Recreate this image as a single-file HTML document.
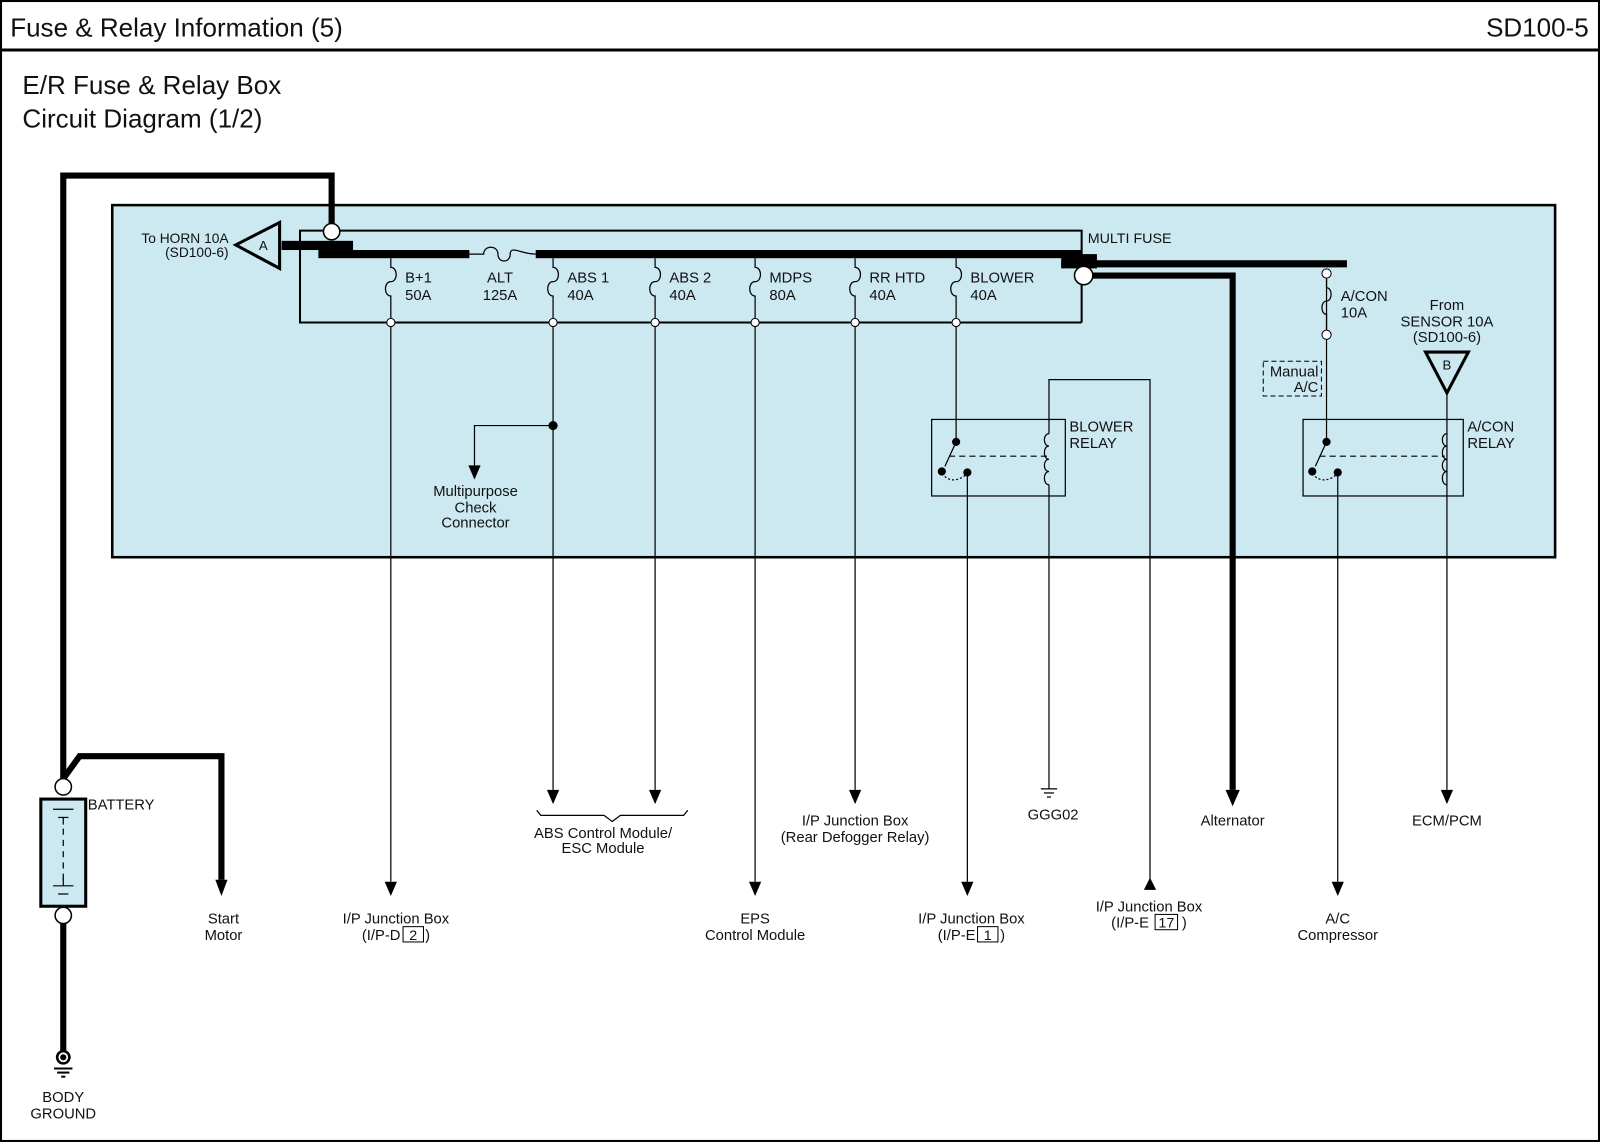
<!DOCTYPE html>
<html><head><meta charset="utf-8"><style>
html,body{margin:0;padding:0;background:#fff;}
svg{display:block;}
text{font-family:"Liberation Sans",Arial,sans-serif;fill:#111;}
</style></head><body>
<svg width="1600" height="1143" viewBox="0 0 1568 1120" preserveAspectRatio="none" xmlns="http://www.w3.org/2000/svg">
<!-- frame -->
<rect x="1" y="1" width="1566" height="1117" fill="none" stroke="#000" stroke-width="2"/>
<line x1="0" y1="49" x2="1568" y2="49" stroke="#000" stroke-width="3"/>
<text x="10" y="36" font-size="25.5">Fuse &amp; Relay Information (5)</text>
<text x="1557" y="36" font-size="25.5" text-anchor="end">SD100-5</text>
<text x="22" y="92" font-size="25.5">E/R Fuse &amp; Relay Box</text>
<text x="22" y="125" font-size="25.5">Circuit Diagram (1/2)</text>

<!-- blue box -->
<rect x="110" y="201" width="1414" height="345" fill="#cce9f1" stroke="#000" stroke-width="2.5"/>

<!-- battery thick wire -->
<polyline points="62,771 62,172 325,172 325,220" fill="none" stroke="#000" stroke-width="6"/>
<polyline points="62,763 78,741 217,741 217,862" fill="none" stroke="#000" stroke-width="6"/>
<path d="M211,862 L223,862 L217,878 Z" fill="#000"/>
<line x1="62" y1="905" x2="62" y2="1030" stroke="#000" stroke-width="6"/>

<!-- multi fuse box -->
<polyline points="1060,316 294,316 294,226 1060,226 1060,316" fill="none" stroke="#000" stroke-width="2"/>
<circle cx="325" cy="227" r="8" fill="#fff" stroke="#000" stroke-width="1.5"/>
<rect x="276" y="236" width="70" height="9" fill="#000"/>
<rect x="312" y="245" width="148" height="8"/>
<path d="M460,249 L474,249 C474,240 488,240 488,249 C488,258 500,258 500,249 C500,240 511,249 525,249" fill="none" stroke="#000" stroke-width="1.2"/>
<rect x="525" y="245" width="535" height="8"/>
<rect x="1040" y="249" width="35" height="14"/>
<rect x="1040" y="255" width="280" height="7"/>
<text x="1066" y="238" font-size="14">MULTI FUSE</text>
<!-- triangle A -->
<polygon points="231,240 274,218 274,263" fill="#cce9f1" stroke="#000" stroke-width="3"/>
<text x="258" y="245" font-size="13" text-anchor="middle">A</text>
<text x="224" y="238" font-size="13.5" text-anchor="end">To HORN 10A</text>
<text x="224" y="252" font-size="13.5" text-anchor="end">(SD100-6)</text>

<!-- fuses -->
<g stroke="#000" stroke-width="1.2" fill="none">
<path d="M383,253 V262 c7,0 7,14 0,14 c-7,0 -7,14 0,14 V312"/>
<path d="M542,253 V262 c7,0 7,14 0,14 c-7,0 -7,14 0,14 V312"/>
<path d="M642,253 V262 c7,0 7,14 0,14 c-7,0 -7,14 0,14 V312"/>
<path d="M740,253 V262 c7,0 7,14 0,14 c-7,0 -7,14 0,14 V312"/>
<path d="M838,253 V262 c7,0 7,14 0,14 c-7,0 -7,14 0,14 V312"/>
<path d="M937,253 V262 c7,0 7,14 0,14 c-7,0 -7,14 0,14 V312"/>
</g>
<g fill="#fff" stroke="#000" stroke-width="1">
<circle cx="383" cy="316" r="4"/><circle cx="542" cy="316" r="4"/><circle cx="642" cy="316" r="4"/>
<circle cx="740" cy="316" r="4"/><circle cx="838" cy="316" r="4"/><circle cx="937" cy="316" r="4"/>
</g>
<g font-size="14.5">
<text x="397" y="277">B+1</text><text x="397" y="294">50A</text>
<text x="490" y="277" text-anchor="middle">ALT</text><text x="490" y="294" text-anchor="middle">125A</text>
<text x="556" y="277">ABS 1</text><text x="556" y="294">40A</text>
<text x="656" y="277">ABS 2</text><text x="656" y="294">40A</text>
<text x="754" y="277">MDPS</text><text x="754" y="294">80A</text>
<text x="852" y="277">RR HTD</text><text x="852" y="294">40A</text>
<text x="951" y="277">BLOWER</text><text x="951" y="294">40A</text>
</g>

<!-- vertical wires -->
<g stroke="#000" stroke-width="1.2" fill="none">
<line x1="383" y1="320" x2="383" y2="864"/>
<line x1="542" y1="320" x2="542" y2="774"/>
<polyline points="542,417 465,417 465,456"/>
<line x1="642" y1="320" x2="642" y2="774"/>
<line x1="740" y1="320" x2="740" y2="864"/>
<line x1="838" y1="320" x2="838" y2="774"/>
<line x1="937" y1="320" x2="937" y2="433"/>
<line x1="948" y1="463" x2="948" y2="864"/>
<polyline points="1028,425 1028,372 1127,372 1127,862"/>
<line x1="1028" y1="475" x2="1028" y2="773"/>
<line x1="1300" y1="273" x2="1300" y2="324"/>
<line x1="1300" y1="332" x2="1300" y2="433"/>
<line x1="1311" y1="463" x2="1311" y2="864"/>
<line x1="1418" y1="385" x2="1418" y2="774"/>
</g>
<circle cx="542" cy="417" r="4.5" fill="#000"/>
<g fill="#000">
<path d="M377,864 L389,864 L383,878 Z"/>
<path d="M536,774 L548,774 L542,788 Z"/>
<path d="M636,774 L648,774 L642,788 Z"/>
<path d="M459,456 L471,456 L465,470 Z"/>
<path d="M734,864 L746,864 L740,878 Z"/>
<path d="M832,774 L844,774 L838,788 Z"/>
<path d="M942,864 L954,864 L948,878 Z"/>
<path d="M1121,872 L1133,872 L1127,860 Z"/>
<path d="M1305,864 L1317,864 L1311,878 Z"/>
<path d="M1412,774 L1424,774 L1418,788 Z"/>
</g>

<!-- Alternator thick wire -->
<polyline points="1062,270 1208,270 1208,774" fill="none" stroke="#000" stroke-width="6"/>
<path d="M1201,774 L1215,774 L1208,790 Z" fill="#000"/>
<circle cx="1062" cy="270" r="9" fill="#fff" stroke="#000" stroke-width="1.5"/>

<!-- A/CON fuse -->
<path d="M1300,273 V282 c6,0 6,13 0,13 c-6,0 -6,13 0,13 V324" fill="none" stroke="#000" stroke-width="1.2"/>
<circle cx="1300" cy="268" r="4.5" fill="#fff" stroke="#000"/>
<circle cx="1300" cy="328" r="4.5" fill="#fff" stroke="#000"/>
<text x="1314" y="295" font-size="14.5">A/CON</text><text x="1314" y="311" font-size="14.5">10A</text>
<rect x="1238" y="354" width="57" height="34" fill="none" stroke="#000" stroke-dasharray="5,3"/>
<text x="1292" y="369" font-size="14.5" text-anchor="end">Manual</text>
<text x="1292" y="384" font-size="14.5" text-anchor="end">A/C</text>
<text x="1418" y="304" font-size="14.5" text-anchor="middle">From</text>
<text x="1418" y="320" font-size="14.5" text-anchor="middle">SENSOR 10A</text>
<text x="1418" y="335" font-size="14.5" text-anchor="middle">(SD100-6)</text>
<polygon points="1397,345 1439,345 1418,385" fill="#cce9f1" stroke="#000" stroke-width="3"/>
<text x="1418" y="362" font-size="13" text-anchor="middle">B</text>

<!-- relays -->
<g stroke="#000" stroke-width="1.2" fill="none">
<rect x="913" y="411" width="131" height="75"/>
<path d="M1028,425 c-6,0 -6,12 0,12 c-6,0 -6,13 0,13 c-6,0 -6,12 0,12 c-6,0 -6,13 0,13"/>
<line x1="937" y1="433" x2="926" y2="457"/>
<line x1="930" y1="447" x2="1026" y2="447" stroke-dasharray="6,4"/>
<path d="M923,464 q10,12 24,1" stroke-dasharray="2,2"/>
<rect x="1277" y="411" width="157" height="75"/>
<path d="M1418,425 c-6,0 -6,12 0,12 c-6,0 -6,13 0,13 c-6,0 -6,12 0,12 c-6,0 -6,13 0,13"/>
<line x1="1300" y1="433" x2="1289" y2="457"/>
<line x1="1293" y1="447" x2="1416" y2="447" stroke-dasharray="6,4"/>
<path d="M1286,464 q10,12 24,1" stroke-dasharray="2,2"/>
</g>
<g fill="#000">
<circle cx="937" cy="433" r="4"/><circle cx="923" cy="462" r="4"/><circle cx="948" cy="463" r="4"/>
<circle cx="1300" cy="433" r="4"/><circle cx="1286" cy="462" r="4"/><circle cx="1311" cy="463" r="4"/>
</g>
<text x="1048" y="423" font-size="14.5">BLOWER</text><text x="1048" y="439" font-size="14.5">RELAY</text>
<text x="1438" y="423" font-size="14.5">A/CON</text><text x="1438" y="439" font-size="14.5">RELAY</text>

<!-- ground GGG02 -->
<g stroke="#000" stroke-width="1.2">
<line x1="1020" y1="773" x2="1036" y2="773"/><line x1="1023" y1="777" x2="1033" y2="777"/><line x1="1026" y1="781" x2="1030" y2="781"/>
</g>

<!-- battery -->
<rect x="40" y="783" width="44" height="105" fill="#cce9f1" stroke="#000" stroke-width="3"/>
<g stroke="#000" stroke-width="1.2">
<line x1="52" y1="793" x2="72" y2="793"/><line x1="57" y1="801" x2="67" y2="801"/><line x1="62" y1="801" x2="62" y2="808"/>
<line x1="62" y1="812" x2="62" y2="862" stroke-dasharray="6,5"/>
<line x1="52" y1="868" x2="72" y2="868"/><line x1="57" y1="876" x2="67" y2="876"/><line x1="62" y1="861" x2="62" y2="868"/>
</g>
<circle cx="62" cy="771" r="8" fill="#fff" stroke="#000" stroke-width="1.5"/>
<circle cx="62" cy="897" r="8" fill="#fff" stroke="#000" stroke-width="1.5"/>
<circle cx="62" cy="1036" r="6" fill="#fff" stroke="#000" stroke-width="2.5"/>
<circle cx="62" cy="1036" r="3" fill="#000"/>
<g stroke="#000" stroke-width="2"><line x1="53" y1="1047" x2="71" y2="1047"/><line x1="56" y1="1051" x2="68" y2="1051"/><line x1="60" y1="1055" x2="64" y2="1055"/></g>
<text x="86" y="793" font-size="14.5">BATTERY</text>

<!-- brace -->
<path d="M526,794 l4,5 l62,0 l8,6 l8,-6 l62,0 l4,-5" fill="none" stroke="#000" stroke-width="1.2"/>

<!-- bottom labels -->
<g font-size="14.5" text-anchor="middle">
<text x="62" y="1080">BODY</text><text x="62" y="1096">GROUND</text>
<text x="219" y="905">Start</text><text x="219" y="921">Motor</text>
<text x="388" y="905">I/P Junction Box</text><text x="388" y="921">(I/P-D <tspan fill="#fff">__</tspan> )</text>
<text x="466" y="486">Multipurpose</text><text x="466" y="502">Check</text><text x="466" y="517">Connector</text>
<text x="591" y="821">ABS Control Module/</text><text x="591" y="836">ESC Module</text>
<text x="740" y="905">EPS</text><text x="740" y="921">Control Module</text>
<text x="838" y="809">I/P Junction Box</text><text x="838" y="825">(Rear Defogger Relay)</text>
<text x="952" y="905">I/P Junction Box</text><text x="952" y="921">(I/P-E <tspan fill="#fff">__</tspan> )</text>
<text x="1032" y="803">GGG02</text>
<text x="1126" y="893">I/P Junction Box</text><text x="1126" y="909">(I/P-E <tspan fill="#fff">___</tspan> )</text>
<text x="1208" y="809">Alternator</text>
<text x="1311" y="905">A/C</text><text x="1311" y="921">Compressor</text>
<text x="1418" y="809">ECM/PCM</text>
</g>
<g stroke="#000" stroke-width="1" fill="#fff">
<rect x="395" y="908" width="20" height="15"/>
<rect x="958" y="908" width="20" height="15"/>
<rect x="1132" y="896" width="22" height="15"/>
</g>
<g font-size="14" text-anchor="middle">
<text x="405" y="921">2</text><text x="968" y="921">1</text><text x="1143" y="909">17</text>
</g>
</svg>
</body></html>
